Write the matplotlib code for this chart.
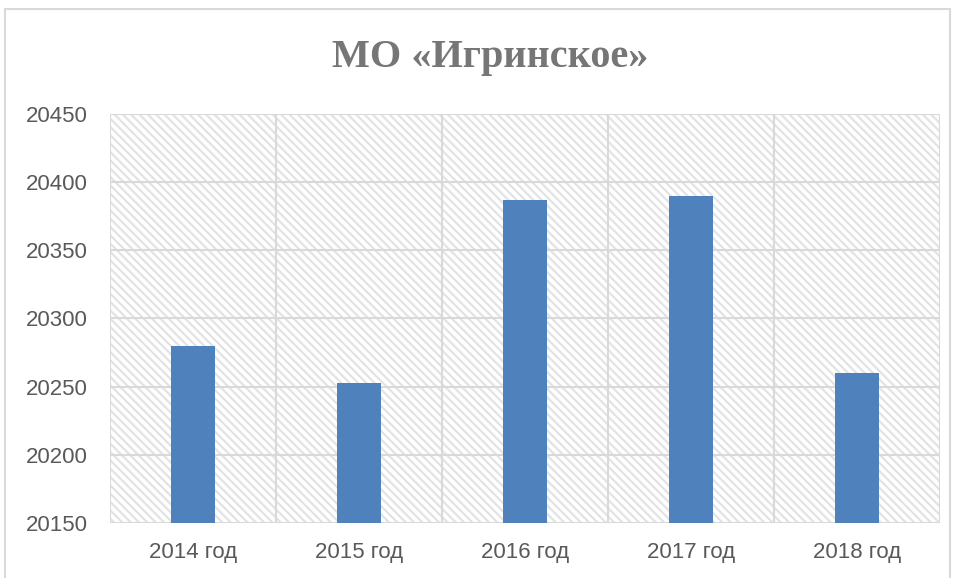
import numpy as np
import matplotlib.pyplot as plt
from matplotlib.patches import Rectangle

# данные
categories = ['2014 год', '2015 год', '2016 год', '2017 год', '2018 год']
values = [20280, 20253, 20387, 20390, 20260]
yticks = [20150, 20200, 20250, 20300, 20350, 20400, 20450]

plt.rcParams['font.family'] = ['Liberation Sans', 'DejaVu Sans']
plt.rcParams['hatch.color'] = '#e3e3e3'
plt.rcParams['hatch.linewidth'] = 1.6

fig = plt.figure(figsize=(9.57, 5.78), dpi=100)
# рамка диаграммы
fig.patches.append(Rectangle((5 / 957, -0.1), 945 / 957, 1.1 - 9 / 578,
                             transform=fig.transFigure, fill=False,
                             edgecolor='#d9d9d9', linewidth=1.5))

ax = fig.add_axes([110 / 957, 1 - 523 / 578, 830 / 957, 409 / 578])
x = np.arange(len(categories))

# штриховка фона
ax.add_patch(Rectangle((0, 0), 1, 1, transform=ax.transAxes, facecolor='white',
                       edgecolor='#e3e3e3', hatch='\\\\\\\\', linewidth=0, zorder=0))

ax.bar(x, values, width=0.27, color='#4f81bd', zorder=3)

ax.set_xlim(-0.5, len(categories) - 0.5)
ax.set_ylim(yticks[0], yticks[-1])
ax.set_yticks(yticks)
ax.set_xticks(x)
ax.set_xticklabels(categories)

# сетка
for yv in yticks:
    ax.axhline(yv, color='#d9d9d9', linewidth=1.5, zorder=1)
for xv in np.arange(-0.5, len(categories), 1.0):
    ax.axvline(xv, color='#d9d9d9', linewidth=1.5, zorder=1)

for s in ax.spines.values():
    s.set_visible(False)
ax.tick_params(length=0, labelsize=16, labelcolor='#595959')
ax.tick_params(axis='y', pad=16)
ax.tick_params(axis='x', pad=14)

fig.text(490 / 957, 1 - 58 / 578, 'МО «Игринское»', ha='center', va='center',
         fontsize=29, fontweight='bold', color='#767676',
         family=['Liberation Serif', 'DejaVu Serif'])

fig.savefig('out.png', dpi=100)
